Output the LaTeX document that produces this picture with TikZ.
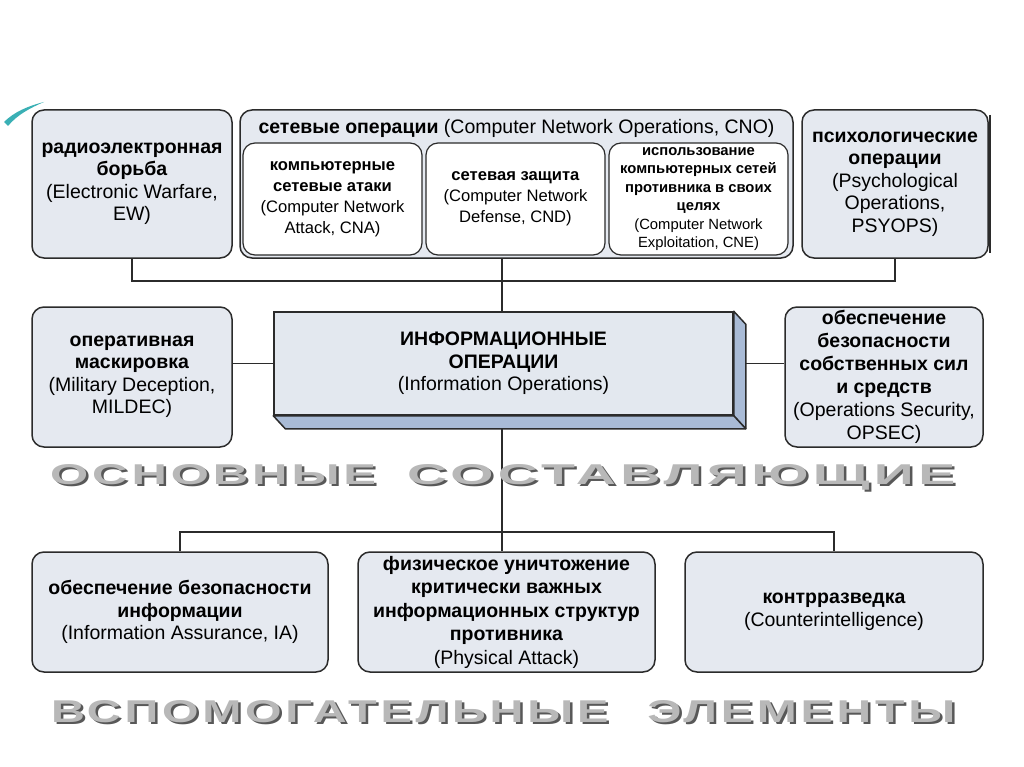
\documentclass[tikz,border=0pt]{standalone}
\usepackage{fontspec}
\setmainfont{Liberation Sans}
\newfontfamily\titlefont[LetterSpace=8]{Liberation Sans}
\usepackage{graphicx}
\usetikzlibrary{calc}
\definecolor{bd}{HTML}{2B2B2B}
\definecolor{boxfill}{HTML}{E5E9F0}
\definecolor{sidefill}{HTML}{A9BBD6}
\definecolor{frontfill}{HTML}{E3E8EF}
\definecolor{titlegray}{HTML}{B8B8B8}
\definecolor{shadowgray}{HTML}{585858}
\definecolor{tealc}{HTML}{3AB0B5}
\newcommand\mainsz{\fontsize{19.5}{22.5}\selectfont}
\newcommand\cnasz{\fontsize{16.6}{21}\selectfont}
\newcommand\cnesz{\fontsize{14.8}{18.4}\selectfont}
% two-word title: widths, gap, height, words
\newcommand\twtitle[6]{\resizebox{#1}{#4}{\titlefont\bfseries #5}\hspace{#3}\resizebox{#2}{#4}{\titlefont\bfseries #6}}
\newcommand\shadowtitle[6]{\rlap{\kern2.5pt\raisebox{-2.5pt}{\textcolor{shadowgray}{\twtitle{#1}{#2}{#3}{#4}{#5}{#6}}}}\textcolor{titlegray}{\twtitle{#1}{#2}{#3}{#4}{#5}{#6}}}
\tikzset{
  box/.style={draw=bd, line width=1.5pt, fill=boxfill, rounded corners=12pt,
    align=center, inner sep=1pt, font=\mainsz},
  inbox/.style={draw=bd, line width=1.2pt, fill=white, rounded corners=12pt,
    align=center, inner sep=1pt, minimum width=179, minimum height=112},
  conn/.style={draw=bd, line width=1.5pt},
  side/.style={fill=sidefill, draw=bd, line width=1.5pt, line join=round},
  ttl/.style={anchor=base west, inner sep=0pt}
}
\begin{document}
\begin{tikzpicture}[x=1pt, y=-1pt]
\useasboundingbox (0,0) rectangle (1024,767);
\fill[white] (0,0) rectangle (1024,767);
% teal accent
\fill[tealc] (4,122) .. controls (14,112) and (28,106) .. (44,102) .. controls (30,108) and (17,115) .. (8,126) -- cycle;

% top row
\node[box, minimum width=200, minimum height=148] (ew) at (132,184)
  {\textbf{радиоэлектронная}\\\textbf{борьба}\\(Electronic Warfare,\\EW)};
\node[box, minimum width=553, minimum height=148] (cno) at (516.5,184) {};
\node[inner sep=0pt, font=\mainsz] (cnot) at (516.5,128)
  {\textbf{сетевые операции} (Computer Network Operations, CNO)};
\node[inbox, font=\cnasz] (cna) at (332.5,199)
  {\textbf{компьютерные}\\\textbf{сетевые атаки}\\(Computer Network\\Attack, CNA)};
\node[inbox, font=\cnasz] (cnd) at (515.5,199)
  {\textbf{сетевая защита}\\(Computer Network\\Defense, CND)};
\node[inbox, font=\cnesz, inner sep=0pt] (cne) at (698.5,199)
  {\textbf{использование}\\\textbf{компьютерных сетей}\\\textbf{противника в своих}\\\textbf{целях}\\(Computer Network\\Exploitation, CNE)};
\draw[line width=2.2pt, bd] (990,115) -- (990,253);
\node[box, minimum width=186, minimum height=148] (psy) at (895,184)
  {\textbf{психологические}\\\textbf{операции}\\(Psychological\\Operations,\\PSYOPS)};

% central 3D box
\node[box, rounded corners=0pt, fill=frontfill, minimum width=459, minimum height=103] (io) at (503.5,363.5)
  {\textbf{ИНФОРМАЦИОННЫЕ}\\\textbf{ОПЕРАЦИИ}\\(Information Operations)};
\path[side] (io.north east) -- ($(io.north east)+(12,13)$) -- ($(io.south east)+(12,13)$) -- (io.south east) -- cycle;
\path[side] (io.south west) -- (io.south east) -- ($(io.south east)+(12,13)$) -- ($(io.south west)+(12,13)$) -- cycle;
\coordinate (ioR) at ($(io.east)+(12,0)$);
\coordinate (ioB) at ($(io.south)+(-1.5,13)$);

\node[box, minimum width=200, minimum height=140] (mil) at (132,377)
  {\textbf{оперативная}\\\textbf{маскировка}\\(Military Deception,\\MILDEC)};
\node[box, minimum width=198, minimum height=140, inner sep=0pt, font=\fontsize{19.5}{23}\selectfont] (ops) at (884,377)
  {\textbf{обеспечение}\\\textbf{безопасности}\\\textbf{собственных сил}\\\textbf{и средств}\\(Operations Security,\\OPSEC)};

% bottom row
\node[box, minimum width=296, minimum height=120] (ia) at (180,612)
  {\textbf{обеспечение безопасности}\\\textbf{информации}\\(Information Assurance, IA)};
\node[box, minimum width=297, minimum height=120, font=\fontsize{19.5}{23.5}\selectfont] (pa) at (506.5,612)
  {\textbf{физическое уничтожение}\\\textbf{критически важных}\\\textbf{информационных структур}\\\textbf{противника}\\(Physical Attack)};
\node[box, minimum width=298, minimum height=120] (ci) at (834,612)
  {\textbf{контрразведка}\\(Counterintelligence)};

% connectors
\coordinate (bar1) at (0,281);
\draw[conn] (ew.south) -- (ew.south |- bar1) -- (psy.south |- bar1) -- (psy.south);
\draw[conn] (cno.south -| ioB) -- (io.north -| ioB);
\draw[conn] (mil.east |- io.west) -- (io.west);
\draw[conn] (ioR) -- (ops.west |- ioR);
\coordinate (bar2) at (0,532);
\draw[conn] (ioB) -- (pa.north -| ioB);
\draw[conn] (ia.north) -- (ia.north |- bar2) -- (ci.north |- bar2) -- (ci.north);

% titles
\node[ttl] (t1) at (50,484) {\shadowtitle{326pt}{548pt}{31pt}{20pt}{ОСНОВНЫЕ}{СОСТАВЛЯЮЩИЕ}};
\node[ttl] (t2) at (51,722) {\shadowtitle{557pt}{308pt}{39pt}{22pt}{ВСПОМОГАТЕЛЬНЫЕ}{ЭЛЕМЕНТЫ}};
\end{tikzpicture}
\end{document}
